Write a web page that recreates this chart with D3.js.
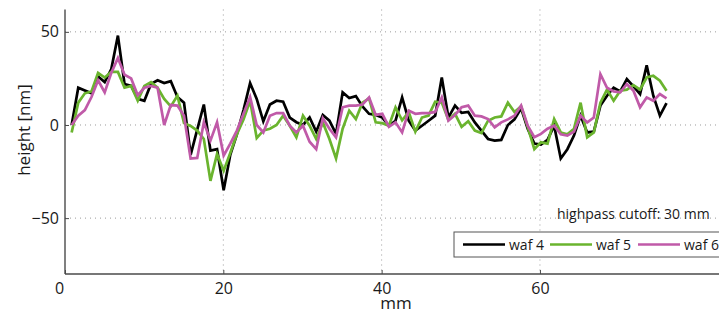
<!DOCTYPE html>
<html>
<head>
<meta charset="utf-8">
<script src="https://cdn.jsdelivr.net/npm/d3@7"></script>
<style>
    body { margin: 0; background: #fff; }
    text { font-family: "Open Sans", "DejaVu Sans", sans-serif; fill: #1a1a1a; }
</style>
</head>
<body>
<div id="chart-div"></div>
<script>
//---------------------------------//
// Data                            //
//---------------------------------//

// samples along the scan, every ~0.835 mm starting at 0.84 mm
var sampleStart = 0.84;
var sampleStep = 0.835;

var waf4 = [0, 20, 18.5, 17, 26, 23, 30, 48, 22, 21, 14, 13, 22, 24, 22.5, 23.5, 15, 12, -16, -2.5,
            11, -13.8, -13, -35, -16, -5, 8, 22.5, 14, 2, 11, 13, 12.5, 4, 1.5, 0, 4, -3.6, 5.4, 2.3,
            -4.8, 17.5, 14.5, 15.5, 10, 6, 5.4, 4, -0.4, 2.3, 14.8, 2.3, -3, -0.4, 2.3, 5, 25.5, 4, 10.4, 6.5,
            7, 1.4, -3, -7.5, -8.4, -8, 0, 3, 9, -2, -10, -10.5, -8, -0.4, -18, -13, -5.7, 5, -4, -3.6,
            10.4, 15.7, 20, 18, 24.6, 20.7, 16.6, 32, 15.7, 5, 11.8];

var waf5 = [-4, 12, 17, 18, 28, 25.5, 28.5, 28.5, 20, 21, 13, 21, 23, 20, 14, 10, 15.7, 1, -0.5, -3,
            -7.5, -30, -15.5, -24.5, -15, -5, 3, 13, -7, -3, -2, 0, 5, -0.4, -6.6, 5, -0.4, -7.5, 1.4, -7.5,
            -18, -2, 7.7, 3.2, 12, 14.3, 1.4, 1, -0.4, 9.5, 2.5, 7, -3.6, 4, 5, 12.5, 12, 2.7, 6, -1,
            2, -3, -4.3, 2.3, 4, 4.6, 12, 7, 10, -1, -13, -9.3, -10, 3.2, -4, -5, -2, 12, -6.6, -4,
            12, 19, 13, 18.4, 19, 21.4, 19, 25.5, 26.4, 23.8, 18.4];

var waf6 = [0, 5, 8, 15, 24, 17.5, 28, 36, 27, 25, 16, 20, 21, 20, 0, 10.7, 10.4, 5, -18, -17.7,
            1.4, -8.4, 1.4, -16.4, -10, -3, 6, 15, 0, -4, 5, 6.4, 6.4, -0.4, -4, -0.4, -9, -13, 3.6, -2,
            -6.6, 9.5, 10.4, 10.4, 11, 14.8, 5.4, 6, -1, 1.4, -4, 7.7, 6, 6.4, 6.4, 7, 14.8, 2.3, 5.4, 9.5,
            10.4, 5, 4.6, 3.2, -1.3, 1.4, 3, 5, 10.4, -0.4, -6.6, -4.8, -2, -0.4, -5, -5.7, -3.6, 5, 1.4, 4,
            27.3, 20, 18, 17.5, 22, 18.4, 9.5, 14.8, 13, 16.6, 14.3];

var seriesNames = ['waf 4', 'waf 5', 'waf 6'];
var seriesColors = ['#000000', '#6ab42e', '#c05aa8'];

var xTicks = [0, 20, 40, 60];
var yTicks = [-50, 0, 50];

//---------------------------------//
// Setup                           //
//---------------------------------//

var W = 719, H = 323;
var plotL = 65, plotR = 722, plotT = 9.5, plotB = 274;

var svg = d3.select('#chart-div')
            .append('svg')
            .attr('width', W)
            .attr('height', H);

var x = d3.scaleLinear().domain([0, 83]).range([plotL, plotR]);
var y = d3.scaleLinear().domain([-80, 62]).range([plotB, plotT]);

var mm = waf4.map(function(d, i) { return sampleStart + i*sampleStep; });

// dotted grid
svg.append('g').selectAll('line')
   .data(xTicks.filter(function(d) { return d > 0; }))
   .join('line')
    .attr('x1', function(d) { return x(d); }).attr('x2', function(d) { return x(d); })
    .attr('y1', plotT).attr('y2', plotB)
    .attr('stroke', '#9a9a9a').attr('stroke-width', 1)
    .attr('stroke-dasharray', '1,4');

svg.append('g').selectAll('line')
   .data(yTicks)
   .join('line')
    .attr('x1', plotL).attr('x2', W)
    .attr('y1', function(d) { return y(d); }).attr('y2', function(d) { return y(d); })
    .attr('stroke', '#9a9a9a').attr('stroke-width', 1)
    .attr('stroke-dasharray', '1,4');

// axes
var xAxis = svg.append('g')
    .attr('transform', 'translate(0,' + plotB + ')')
    .call(d3.axisBottom(x).tickValues(xTicks).tickSizeInner(-4).tickSizeOuter(0).tickPadding(9));

var yAxis = svg.append('g')
    .attr('transform', 'translate(' + plotL + ',0)')
    .call(d3.axisLeft(y).tickValues(yTicks).tickSizeInner(-4).tickSizeOuter(0).tickPadding(6)
          .tickFormat(function(d) { return d < 0 ? '\u2212' + Math.abs(d) : d; }));

[xAxis, yAxis].forEach(function(ax) {
    ax.select('.domain').attr('stroke', '#4a4a4a').attr('stroke-width', 1.4);
    ax.selectAll('.tick line').attr('stroke', '#4a4a4a');
    ax.selectAll('.tick text').attr('font-size', 16).attr('fill', '#1a1a1a')
      .style('font-family', '"Open Sans", sans-serif');
});
yAxis.select('.domain').attr('d', 'M0,' + plotT + 'V' + plotB);
xAxis.select('.domain').attr('d', 'M' + plotL + ',0H' + W);
// the origin label sits a little left of its tick, clear of the y axis
xAxis.selectAll('.tick text').filter(function(d) { return d === 0; }).attr('dx', -6);

svg.append('text')
   .attr('transform', 'translate(30,' + 130 + ') rotate(-90)')
   .attr('text-anchor', 'middle')
   .attr('font-size', 17)
   .text('height [nm]');

svg.append('text')
   .attr('x', 396).attr('y', 309)
   .attr('text-anchor', 'middle')
   .attr('font-size', 17)
   .text('mm');

//---------------------------------//
// Lines                           //
//---------------------------------//

var line = d3.line()
             .x(function(d, i) { return x(mm[i]); })
             .y(function(d) { return y(d); });

[waf4, waf5, waf6].forEach(function(series, k) {
    svg.append('path')
       .datum(series)
       .attr('d', line)
       .attr('fill', 'none')
       .attr('stroke', seriesColors[k])
       .attr('stroke-width', 2.7)
       .attr('stroke-linejoin', 'miter');
});

//---------------------------------//
// Legend                          //
//---------------------------------//

svg.append('text')
   .attr('x', 557).attr('y', 219)
   .attr('font-size', 14)
   .text('highpass cutoff: 30 mm');

var legend = svg.append('g').attr('transform', 'translate(454,232)');
legend.append('rect')
      .attr('width', 280).attr('height', 25)
      .attr('fill', '#fff').attr('stroke', '#555').attr('stroke-width', 1);

var legendX = [9, 96, 184];
seriesNames.forEach(function(name, k) {
    legend.append('line')
          .attr('x1', legendX[k]).attr('x2', legendX[k] + 42)
          .attr('y1', 12.5).attr('y2', 12.5)
          .attr('stroke', seriesColors[k]).attr('stroke-width', 2.7);
    legend.append('text')
          .attr('x', legendX[k] + 46).attr('y', 17.5)
          .attr('font-size', 14)
          .text(name);
});
</script>
</body>
</html>
